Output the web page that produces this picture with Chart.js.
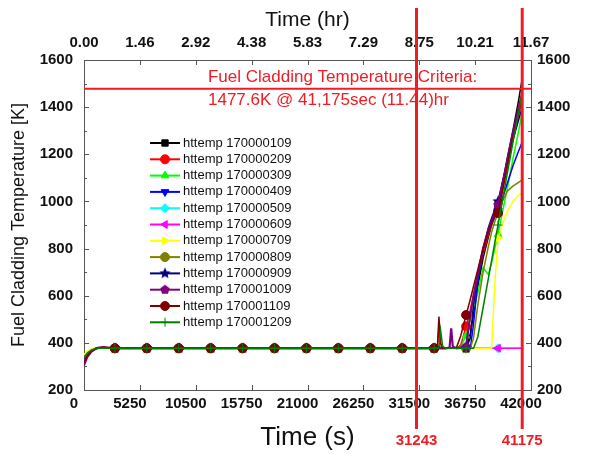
<!DOCTYPE html>
<html>
<head>
<meta charset="utf-8">
<script src="https://cdn.jsdelivr.net/npm/chart.js@4.4.1/dist/chart.umd.min.js"></script>
<style>
  html, body { margin: 0; padding: 0; background: #fff; overflow: hidden; }
  #wrap { width: 608px; height: 457px; }
</style>
</head>
<body>
<div id="wrap"><canvas id="chart" width="608" height="457"></canvas></div>
<script>
/* ── Data ── */
const TIME = [0, 300, 700, 1200, 1800, 2900, 5900, 8900, 11900, 14900, 17900, 20900, 23900, 26900,
  29900, 32900, 33200, 33350, 33500, 33700, 34000, 34350, 34500, 34650, 35000, 35400, 35900,
  36300, 36600, 37000, 37500, 38000, 38300, 38600, 38900, 39300, 39800, 40300, 40800, 41175];

const MARKER_TIMES = [2900, 5900, 8900, 11900, 14900, 17900, 20900, 23900, 26900, 29900, 32900, 35900, 38900];

const SERIES_NAMES = ['httemp 170000109', 'httemp 170000209', 'httemp 170000309', 'httemp 170000409',
  'httemp 170000509', 'httemp 170000609', 'httemp 170000709', 'httemp 170000809',
  'httemp 170000909', 'httemp 170001009', 'httemp 170001109', 'httemp 170001209'];

const T_109 = [330, 352, 368, 376, 378, 377, 377, 377, 377, 377, 377, 377, 377, 377, 377, 377,
  377, 385, 380, 377, 377, 377, 377, 377, 377, 377, 377, 440, 520, 640, 760, 850, 900, 945, 985, 1070, 1190, 1300, 1420, 1520];
const T_209 = [315, 345, 366, 377, 380, 377, 377, 377, 377, 377, 377, 377, 377, 377, 377, 377,
  378, 470, 395, 378, 377, 377, 377, 377, 377, 390, 470, 540, 600, 680, 780, 860, 900, 935, 960, 1040, 1150, 1260, 1360, 1430];
const T_309 = [340, 360, 372, 378, 379, 377, 377, 377, 377, 377, 377, 377, 377, 377, 377, 377,
  377, 377, 377, 377, 377, 377, 377, 377, 377, 384, 430, 500, 550, 610, 720, 690, 740, 800, 860, 950, 1060, 1180, 1290, 1380];
const T_409 = [325, 350, 367, 377, 378, 377, 377, 377, 377, 377, 377, 377, 377, 377, 377, 377,
  377, 377, 377, 377, 377, 377, 377, 377, 377, 377, 377, 377, 480, 660, 800, 870, 905, 935, 960, 1010, 1080, 1150, 1210, 1252];
const T_509 = [345, 362, 373, 377, 378, 377, 377, 377, 377, 377, 377, 377, 377, 377, 377, 377,
  377, 377, 377, 377, 377, 377, 377, 377, 377, 377, 377, 377, 377, 377, 377, 377, 377, 377, 377, 377, 377, 377, 377, 377];
const T_609 = [338, 358, 371, 377, 378, 377, 377, 377, 377, 377, 377, 377, 377, 377, 377, 377,
  377, 377, 377, 377, 377, 377, 377, 377, 377, 377, 377, 377, 377, 377, 377, 377, 377, 377, 377, 377, 377, 377, 377, 377];
const T_709 = [350, 365, 374, 378, 378, 377, 377, 377, 377, 377, 377, 377, 377, 377, 377, 377,
  377, 377, 377, 377, 377, 377, 377, 377, 377, 377, 377, 377, 377, 377, 377, 377, 377, 650, 845, 900, 960, 1000, 1025, 1036];
const T_809 = [320, 348, 366, 377, 379, 377, 377, 377, 377, 377, 377, 377, 377, 377, 377, 377,
  377, 377, 377, 377, 377, 377, 377, 377, 377, 377, 377, 377, 420, 560, 700, 810, 870, 915, 950, 1000, 1045, 1065, 1080, 1091];
const T_909 = [310, 342, 364, 377, 380, 377, 377, 377, 377, 377, 377, 377, 377, 377, 377, 377,
  377, 377, 377, 377, 377, 377, 377, 377, 377, 377, 377, 420, 560, 690, 800, 890, 930, 965, 1000, 1080, 1170, 1260, 1340, 1400];
const T_1009 = [305, 340, 363, 378, 381, 377, 377, 377, 377, 377, 377, 377, 377, 377, 377, 377,
  377, 377, 377, 377, 377, 380, 462, 385, 377, 380, 384, 520, 600, 690, 800, 880, 915, 950, 985, 1070, 1180, 1290, 1390, 1460];
const T_1109 = [318, 346, 367, 379, 382, 377, 377, 377, 377, 377, 377, 377, 377, 377, 377, 377,
  380, 512, 400, 378, 377, 377, 377, 377, 380, 430, 518, 585, 640, 710, 800, 875, 910, 935, 951, 1040, 1160, 1270, 1370, 1445];
const T_1209 = [335, 356, 370, 377, 378, 377, 377, 377, 377, 377, 377, 377, 377, 377, 377, 377,
  377, 380, 455, 385, 377, 377, 377, 377, 377, 377, 377, 377, 377, 425, 550, 675, 750, 825, 900, 1000, 1125, 1250, 1370, 1460];

const SERIES_VALUES = [T_109, T_209, T_309, T_409, T_509, T_609, T_709, T_809, T_909, T_1009, T_1109, T_1209];

const X_MIN = 0, X_MAX = 42000, X_STEP = 5250;
const Y_MIN = 200, Y_MAX = 1600, Y_STEP = 200;

const CRITERIA_K      = 1477.6;
const CRITERIA_TIMES  = [31243, 41175];
const CRITERIA_TEXT   = ['Fuel Cladding Temperature Criteria:', '1477.6K @ 41,175sec (11.44)hr'];
const CRITERIA_TEXT_X = 11650;

/* ── Styles ── */
const FONT       = '"Liberation Sans", Arial, sans-serif';
const AXIS_COLOR = '#555';
const RED        = '#ee1c24';
const TICK_FONT  = { family: FONT, size: 15, weight: 'bold' };

function shapeImage(kind, color, r) {
  const c = document.createElement('canvas');
  const s = Math.ceil(r * 2 + 2);
  c.width = c.height = s;
  const g = c.getContext('2d');
  const n = kind === 'star' ? 10 : 5;
  g.fillStyle = color;
  g.beginPath();
  for (let k = 0; k < n; k++) {
    const a  = -Math.PI / 2 + k * 2 * Math.PI / n;
    const rr = kind === 'star' && k % 2 ? r * 0.45 : r;
    g.lineTo(s / 2 + rr * Math.cos(a), s / 2 + rr * Math.sin(a));
  }
  g.closePath();
  g.fill();
  return c;
}

const SERIES_STYLE = [
  { color: '#000000', point: 'rect',     rot: 0 },
  { color: '#ff0000', point: 'circle',   rot: 0 },
  { color: '#00ff00', point: 'triangle', rot: 0 },
  { color: '#0000ff', point: 'triangle', rot: 180 },
  { color: '#00ffff', point: 'rectRot',  rot: 0 },
  { color: '#ff00ff', point: 'triangle', rot: -90 },
  { color: '#ffff00', point: 'triangle', rot: 90 },
  { color: '#808000', point: 'circle',   rot: 0 },
  { color: '#000080', point: shapeImage('star', '#000080', 6), rot: 0 },
  { color: '#800080', point: shapeImage('pentagon', '#800080', 5), rot: 0 },
  { color: '#800000', point: 'circle',   rot: 0 },
  { color: '#008000', point: 'cross',    rot: 0 },
];

/* ── Plugins ── */
const innerTicks = {
  id: 'innerTicks',
  afterDraw(chart) {
    const { ctx, chartArea: a, scales } = chart;
    ctx.save();
    ctx.strokeStyle = AXIS_COLOR;
    ctx.lineWidth = 1;
    ctx.beginPath();
    for (let v = X_MIN; v <= X_MAX; v += X_STEP) {
      const px = Math.round(scales.x.getPixelForValue(v)) + 0.5;
      ctx.moveTo(px, a.bottom); ctx.lineTo(px, a.bottom - 5);
      ctx.moveTo(px, a.top);    ctx.lineTo(px, a.top + 5);
    }
    for (let v = Y_MIN; v <= Y_MAX; v += Y_STEP / 2) {
      const py  = Math.round(scales.y.getPixelForValue(v)) + 0.5;
      const len = (v - Y_MIN) % Y_STEP === 0 ? 5 : 3;
      ctx.moveTo(a.left, py);  ctx.lineTo(a.left + len, py);
      ctx.moveTo(a.right, py); ctx.lineTo(a.right - len, py);
    }
    ctx.stroke();
    ctx.restore();
  },
};

const criteria = {
  id: 'criteria',
  afterDraw(chart) {
    const { ctx, chartArea: a, scales: { x, y } } = chart;
    const cy = y.getPixelForValue(CRITERIA_K);
    ctx.save();
    ctx.strokeStyle = RED;
    ctx.fillStyle = RED;

    ctx.lineWidth = 2;
    ctx.beginPath();
    ctx.moveTo(a.left, cy); ctx.lineTo(a.right, cy);
    ctx.stroke();

    ctx.lineWidth = 3;
    ctx.font = 'bold 15px ' + FONT;
    ctx.textAlign = 'center';
    ctx.textBaseline = 'middle';
    CRITERIA_TIMES.forEach(t => {
      const px = x.getPixelForValue(t);
      ctx.beginPath();
      ctx.moveTo(px, 8); ctx.lineTo(px, 429);
      ctx.stroke();
      ctx.fillText(String(t), px, 441);
    });

    ctx.font = '17px ' + FONT;
    ctx.textAlign = 'left';
    const tx = x.getPixelForValue(CRITERIA_TEXT_X);
    ctx.fillText(CRITERIA_TEXT[0], tx, cy - 12);
    ctx.fillText(CRITERIA_TEXT[1], tx, cy + 11);
    ctx.restore();
  },
};

const LEGEND_X = 150, LEGEND_TOP = 143, LEGEND_ROW = 16.3;

const insideLegend = {
  id: 'insideLegend',
  afterDraw(chart) {
    const ctx = chart.ctx;
    ctx.save();
    chart.data.datasets.forEach((ds, i) => {
      const yy = LEGEND_TOP + i * LEGEND_ROW;
      ctx.strokeStyle = ds.borderColor;
      ctx.lineWidth = 2;
      ctx.beginPath();
      ctx.moveTo(LEGEND_X, yy); ctx.lineTo(LEGEND_X + 30, yy);
      ctx.stroke();
      ctx.fillStyle = ds.pointBackgroundColor;
      ctx.lineWidth = 1;
      Chart.helpers.drawPoint(ctx, {
        pointStyle: ds.pointStyle, rotation: ds.pointRotation, radius: 4.5, borderWidth: 1,
      }, LEGEND_X + 15, yy);
      ctx.fillStyle = '#111';
      ctx.font = '13px ' + FONT;
      ctx.textAlign = 'left';
      ctx.textBaseline = 'middle';
      ctx.fillText(ds.label, LEGEND_X + 33, yy);
    });
    ctx.restore();
  },
};

/* ── Chart ── */
const datasets = SERIES_VALUES.map((vals, i) => {
  const st = SERIES_STYLE[i];
  return {
    label:                SERIES_NAMES[i],
    data:                 TIME.map((t, k) => ({ x: t, y: vals[k] })),
    borderColor:          st.color,
    backgroundColor:      st.color,
    pointBackgroundColor: st.color,
    pointBorderColor:     st.color,
    pointStyle:           st.point,
    pointRotation:        st.rot,
    pointBorderWidth:     1,
    pointRadius:          ctx => (ctx.raw && MARKER_TIMES.includes(ctx.raw.x) ? 4.5 : 0),
    borderWidth:          i === 9 ? 2.2 : 1.5,
    tension:              0,
    fill:                 false,
    order:                12 - i,
  };
});

function yAxis(position, width, padding, title) {
  return {
    type: 'linear', position, min: Y_MIN, max: Y_MAX,
    grid:   { display: false, drawTicks: false },
    border: { display: true, color: AXIS_COLOR, width: 1 },
    ticks:  { stepSize: Y_STEP, padding, color: '#111', font: TICK_FONT, callback: v => String(v) },
    title:  title
      ? { display: true, text: title, color: '#111', font: { family: FONT, size: 18 }, padding: { top: 8, bottom: 0 } }
      : { display: false },
    afterFit: s => { s.width = width; },
  };
}

new Chart(document.getElementById('chart'), {
  type: 'line',
  data: { datasets },
  options: {
    responsive: false,
    animation:  false,
    events:     [],
    layout:     { padding: 0 },
    plugins: {
      legend:  { display: false },
      tooltip: { enabled: false },
    },
    scales: {
      x: {
        type: 'linear', position: 'bottom', min: X_MIN, max: X_MAX,
        grid:   { display: false, drawTicks: false },
        border: { display: true, color: AXIS_COLOR, width: 1 },
        ticks:  {
          stepSize: X_STEP, autoSkip: false, maxRotation: 0, padding: 5, labelOffset: -10,
          color: '#111', font: TICK_FONT, callback: v => String(v),
        },
        title: { display: true, text: 'Time (s)', color: '#111', font: { family: FONT, size: 26 }, padding: { top: 0, bottom: 4 } },
        afterFit: s => { s.height = 67; },
      },
      xTop: {
        type: 'linear', position: 'top', min: X_MIN, max: X_MAX,
        grid:   { display: false, drawTicks: false },
        border: { display: true, color: AXIS_COLOR, width: 1 },
        ticks:  {
          stepSize: X_STEP, autoSkip: false, maxRotation: 0, padding: 8,
          color: '#111', font: TICK_FONT, callback: v => (v / 3600).toFixed(2),
        },
        title: { display: true, text: 'Time (hr)', color: '#111', font: { family: FONT, size: 21 }, padding: { top: 8, bottom: 0 } },
        afterFit: s => { s.height = 60; },
      },
      y:      yAxis('left', 84, 11, 'Fuel Cladding Temperature [K]'),
      yRight: yAxis('right', 77, 6, null),
    },
  },
  plugins: [innerTicks, criteria, insideLegend],
});
</script>
</body>
</html>
